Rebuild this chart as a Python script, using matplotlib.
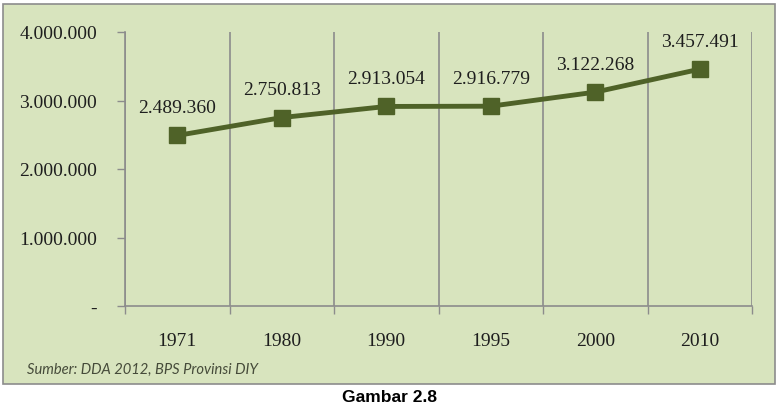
import matplotlib
matplotlib.use("Agg")
import matplotlib.pyplot as plt
from matplotlib.patches import Rectangle
from matplotlib.ticker import FixedLocator, FuncFormatter

years = ["1971", "1980", "1990", "1995", "2000", "2010"]
population = [2489360, 2750813, 2913054, 2916779, 3122268, 3457491]
yticks = [0, 1000000, 2000000, 3000000, 4000000]
source_text = "Sumber: DDA 2012, BPS Provinsi DIY"
caption = "Gambar 2.8"

W, H = 783, 406
fig = plt.figure(figsize=(W / 100, H / 100), dpi=100)
fig.patch.set_facecolor("white")

panel_bg = "#D8E4BE"
grey = "#8C8C8C"
line_col = "#4F6228"
serif = "Liberation Serif"

# panel background
fig.patches.append(Rectangle((3 / W, 1 - 385 / H), (775 - 3) / W, (385 - 5) / H,
                             transform=fig.transFigure, facecolor=panel_bg,
                             edgecolor=grey, linewidth=1.2, zorder=-5))

ax = fig.add_axes([125 / W, 1 - 307 / H, (752 - 125) / W, (307 - 33) / H])
ax.set_zorder(2)
ax.set_facecolor("none")
x = list(range(len(years)))
ax.plot(x, population, color=line_col, linewidth=3.5, marker="s", markersize=12,
        markerfacecolor=line_col, markeredgecolor=line_col, zorder=3, clip_on=False)

def fmt(v):
    return f"{int(v):,}".replace(",", ".")

for xi, v in zip(x, population):
    ax.annotate(fmt(v), (xi, v), xytext=(0, 20), textcoords="offset points",
                ha="center", va="center", fontsize=14, family=serif, color="#1E1E1E")

ax.set_xlim(-0.5, len(years) - 0.5)
ax.set_ylim(0, 4000000)
ax.set_yticks(yticks)
ax.yaxis.set_major_formatter(FuncFormatter(lambda v, p: "-" if v == 0 else fmt(v)))
ax.set_xticks(x)
ax.set_xticklabels(years)
ax.xaxis.set_minor_locator(FixedLocator([i - 0.5 for i in range(len(years) + 1)]))
ax.tick_params(axis="x", which="major", length=0, pad=19, labelsize=14, labelcolor="#1E1E1E")
ax.tick_params(axis="x", which="minor", length=6, width=1, color=grey, direction="out")
ax.tick_params(axis="y", which="major", length=6, width=1, color=grey, direction="out",
               pad=14, labelsize=14, labelcolor="#1E1E1E")
for lab in ax.get_xticklabels() + ax.get_yticklabels():
    lab.set_family(serif)
ax.grid(axis="x", which="minor", color=grey, linewidth=1.2)
for s in ["top", "right"]:
    ax.spines[s].set_visible(False)
for s in ["left", "bottom"]:
    ax.spines[s].set_color(grey)
    ax.spines[s].set_linewidth(1.2)

fig.text(27 / W, 1 - 370 / H, source_text, fontsize=10.6, style="italic", family="Lato",
         color="#464B3A", va="center", ha="left")
fig.text(390 / W, 1 - 398 / H, caption, fontsize=12.5, weight="bold", family="Liberation Sans",
         color="black", va="center", ha="center")

fig.savefig("out.png", dpi=100, facecolor="white")
